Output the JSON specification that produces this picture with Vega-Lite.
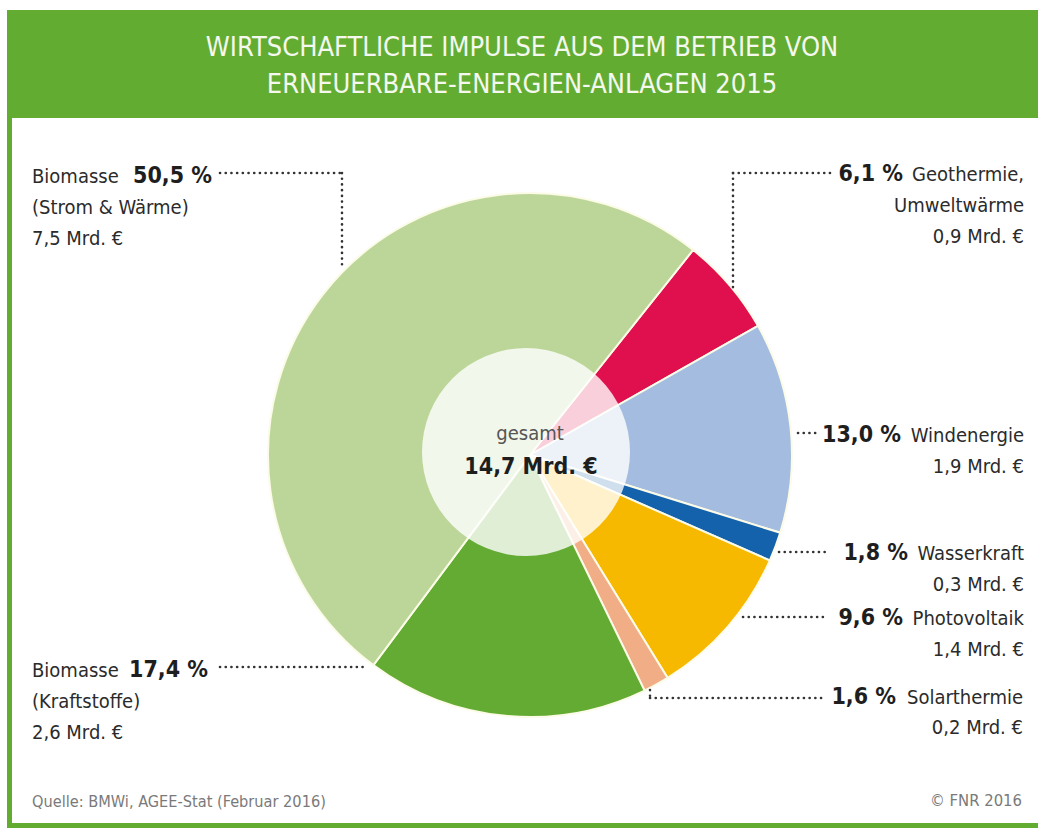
{
  "$schema": "https://vega.github.io/schema/vega-lite/v6.json",
  "width": 1038,
  "height": 828,
  "padding": 0,
  "autosize": {"type": "fit", "contains": "padding"},
  "background": "#ffffff",
  "config": {
    "view": {"stroke": null},
    "axis": {"disable": true},
    "text": {"font": "DejaVu Sans Condensed", "fontSize": 20, "color": "#2b2b2b"}
  },
  "datasets": {
    "pie": [
      {"key": "geo", "share": 6.1, "mrd": 0.9, "order": 1, "pct": "6,1 %", "lines": ["Geothermie,", "Umweltwärme", "0,9 Mrd. €"]},
      {"key": "wind", "share": 13.0, "mrd": 1.9, "order": 2, "pct": "13,0 %", "lines": ["Windenergie", "1,9 Mrd. €"]},
      {"key": "wasser", "share": 1.8, "mrd": 0.3, "order": 3, "pct": "1,8 %", "lines": ["Wasserkraft", "0,3 Mrd. €"]},
      {"key": "pv", "share": 9.6, "mrd": 1.4, "order": 4, "pct": "9,6 %", "lines": ["Photovoltaik", "1,4 Mrd. €"]},
      {"key": "solar", "share": 1.6, "mrd": 0.2, "order": 5, "pct": "1,6 %", "lines": ["Solarthermie", "0,2 Mrd. €"]},
      {"key": "kraft", "share": 17.4, "mrd": 2.6, "order": 6, "pct": "17,4 %", "lines": ["Biomasse", "(Kraftstoffe)", "2,6 Mrd. €"]},
      {"key": "strom", "share": 50.5, "mrd": 7.5, "order": 7, "pct": "50,5 %", "lines": ["Biomasse", "(Strom & Wärme)", "7,5 Mrd. €"]}
    ],
    "one": [{"n": 1}]
  },
  "data": {"name": "pie"},
  "layer": [
    {
      "data": {"name": "one"},
      "mark": {"type": "rect", "color": "#63ac32"},
      "encoding": {
        "x": {"datum": 7, "type": "quantitative", "scale": {"domain": [0, 1038], "nice": false, "zero": false}, "axis": null},
        "x2": {"datum": 1038},
        "y": {"datum": 10, "type": "quantitative", "scale": {"domain": [0, 828], "nice": false, "zero": false, "reverse": true}, "axis": null},
        "y2": {"datum": 118}
      }
    },
    {
      "data": {"name": "one"},
      "mark": {"type": "rect", "color": "#63ac32"},
      "encoding": {
        "x": {"datum": 7, "type": "quantitative"},
        "x2": {"datum": 12},
        "y": {"datum": 10, "type": "quantitative"},
        "y2": {"datum": 828}
      }
    },
    {
      "data": {"name": "one"},
      "mark": {"type": "rect", "color": "#63ac32"},
      "encoding": {
        "x": {"datum": 7, "type": "quantitative"},
        "x2": {"datum": 1038},
        "y": {"datum": 823, "type": "quantitative"},
        "y2": {"datum": 828}
      }
    },
    {
      "data": {"name": "one"},
      "mark": {"type": "text", "align": "center", "baseline": "middle", "font": "DejaVu Sans Condensed", "fontSize": 27, "color": "#f4f8ee", "lineHeight": 37},
      "encoding": {
        "x": {"datum": 522, "type": "quantitative"},
        "y": {"datum": 48, "type": "quantitative"},
        "text": {"value": ["WIRTSCHAFTLICHE IMPULSE AUS DEM BETRIEB VON", "ERNEUERBARE-ENERGIEN-ANLAGEN 2015"]}
      }
    },
    {
      "mark": {"type": "arc", "outerRadius": 262, "stroke": "#fbfbe8", "strokeWidth": 2},
      "encoding": {
        "x": {"datum": 530, "type": "quantitative"},
        "y": {"datum": 455, "type": "quantitative"},
        "theta": {"field": "share", "type": "quantitative", "stack": true, "scale": {"range": [0.672, 6.9552]}},
        "order": {"field": "order", "type": "quantitative"},
        "color": {
          "field": "key", "type": "nominal", "legend": null,
          "scale": {
            "domain": ["geo", "wind", "wasser", "pv", "solar", "kraft", "strom"],
            "range": ["#e0104e", "#a3bcdf", "#1562ac", "#f7b800", "#f1ad86", "#63ab33", "#bcd699"]
          }
        }
      }
    },
    {
      "data": {"name": "one"},
      "mark": {"type": "arc", "outerRadius": 104, "color": "#ffffff", "opacity": 0.8},
      "encoding": {
        "x": {"datum": 526, "type": "quantitative"},
        "y": {"datum": 452, "type": "quantitative"}
      }
    },
    {
      "data": {"name": "one"},
      "mark": {"type": "text", "align": "center", "baseline": "middle", "fontSize": 20, "color": "#555555"},
      "encoding": {
        "x": {"datum": 530, "type": "quantitative"},
        "y": {"datum": 434, "type": "quantitative"},
        "text": {"value": "gesamt"}
      }
    },
    {
      "data": {"name": "one"},
      "mark": {"type": "text", "align": "center", "baseline": "middle", "fontSize": 23, "fontWeight": "bold", "color": "#1e1e1e"},
      "encoding": {
        "x": {"datum": 531, "type": "quantitative"},
        "y": {"datum": 467, "type": "quantitative"},
        "text": {"value": "14,7 Mrd. €"}
      }
    },
    {
      "data": {"name": "one"},
      "mark": {"type": "rule", "color": "#333333", "strokeWidth": 2.6, "strokeCap": "round", "strokeDash": [0.1, 5.6]},
      "encoding": {"x": {"datum": 220, "type": "quantitative"}, "x2": {"datum": 342}, "y": {"datum": 173, "type": "quantitative"}, "y2": {"datum": 173}}
    },
    {
      "data": {"name": "one"},
      "mark": {"type": "rule", "color": "#333333", "strokeWidth": 2.6, "strokeCap": "round", "strokeDash": [0.1, 5.6]},
      "encoding": {"x": {"datum": 342, "type": "quantitative"}, "x2": {"datum": 342}, "y": {"datum": 173, "type": "quantitative"}, "y2": {"datum": 268}}
    },
    {
      "data": {"name": "one"},
      "mark": {"type": "rule", "color": "#333333", "strokeWidth": 2.6, "strokeCap": "round", "strokeDash": [0.1, 5.6]},
      "encoding": {"x": {"datum": 220, "type": "quantitative"}, "x2": {"datum": 366}, "y": {"datum": 667, "type": "quantitative"}, "y2": {"datum": 667}}
    },
    {
      "data": {"name": "one"},
      "mark": {"type": "rule", "color": "#333333", "strokeWidth": 2.6, "strokeCap": "round", "strokeDash": [0.1, 5.6]},
      "encoding": {"x": {"datum": 733, "type": "quantitative"}, "x2": {"datum": 830}, "y": {"datum": 173, "type": "quantitative"}, "y2": {"datum": 173}}
    },
    {
      "data": {"name": "one"},
      "mark": {"type": "rule", "color": "#333333", "strokeWidth": 2.6, "strokeCap": "round", "strokeDash": [0.1, 5.6]},
      "encoding": {"x": {"datum": 733, "type": "quantitative"}, "x2": {"datum": 733}, "y": {"datum": 173, "type": "quantitative"}, "y2": {"datum": 292}}
    },
    {
      "data": {"name": "one"},
      "mark": {"type": "rule", "color": "#333333", "strokeWidth": 2.6, "strokeCap": "round", "strokeDash": [0.1, 5.6]},
      "encoding": {"x": {"datum": 798, "type": "quantitative"}, "x2": {"datum": 816}, "y": {"datum": 433, "type": "quantitative"}, "y2": {"datum": 433}}
    },
    {
      "data": {"name": "one"},
      "mark": {"type": "rule", "color": "#333333", "strokeWidth": 2.6, "strokeCap": "round", "strokeDash": [0.1, 5.6]},
      "encoding": {"x": {"datum": 779, "type": "quantitative"}, "x2": {"datum": 828}, "y": {"datum": 552, "type": "quantitative"}, "y2": {"datum": 552}}
    },
    {
      "data": {"name": "one"},
      "mark": {"type": "rule", "color": "#333333", "strokeWidth": 2.6, "strokeCap": "round", "strokeDash": [0.1, 5.6]},
      "encoding": {"x": {"datum": 743, "type": "quantitative"}, "x2": {"datum": 823}, "y": {"datum": 617, "type": "quantitative"}, "y2": {"datum": 617}}
    },
    {
      "data": {"name": "one"},
      "mark": {"type": "rule", "color": "#333333", "strokeWidth": 2.6, "strokeCap": "round", "strokeDash": [0.1, 5.6]},
      "encoding": {"x": {"datum": 650, "type": "quantitative"}, "x2": {"datum": 826}, "y": {"datum": 698, "type": "quantitative"}, "y2": {"datum": 698}}
    },
    {
      "data": {"name": "one"},
      "mark": {"type": "rule", "color": "#333333", "strokeWidth": 2.6, "strokeCap": "round", "strokeDash": [0.1, 5.6]},
      "encoding": {"x": {"datum": 650, "type": "quantitative"}, "x2": {"datum": 650}, "y": {"datum": 690, "type": "quantitative"}, "y2": {"datum": 698}}
    },
    {
      "transform": [{"filter": "datum.key == 'strom'"}],
      "mark": {"type": "text", "align": "left", "baseline": "alphabetic", "lineHeight": 31},
      "encoding": {"x": {"datum": 32, "type": "quantitative"}, "y": {"datum": 183, "type": "quantitative"}, "text": {"field": "lines"}}
    },
    {
      "transform": [{"filter": "datum.key == 'strom'"}],
      "mark": {"type": "text", "align": "left", "baseline": "alphabetic", "fontSize": 23, "fontWeight": "bold", "color": "#1e1e1e"},
      "encoding": {"x": {"datum": 133, "type": "quantitative"}, "y": {"datum": 183, "type": "quantitative"}, "text": {"field": "pct"}}
    },
    {
      "transform": [{"filter": "datum.key == 'kraft'"}],
      "mark": {"type": "text", "align": "left", "baseline": "alphabetic", "lineHeight": 31},
      "encoding": {"x": {"datum": 32, "type": "quantitative"}, "y": {"datum": 677, "type": "quantitative"}, "text": {"field": "lines"}}
    },
    {
      "transform": [{"filter": "datum.key == 'kraft'"}],
      "mark": {"type": "text", "align": "left", "baseline": "alphabetic", "fontSize": 23, "fontWeight": "bold", "color": "#1e1e1e"},
      "encoding": {"x": {"datum": 129, "type": "quantitative"}, "y": {"datum": 677, "type": "quantitative"}, "text": {"field": "pct"}}
    },
    {
      "transform": [{"filter": "datum.key == 'geo'"}],
      "mark": {"type": "text", "align": "right", "baseline": "alphabetic", "lineHeight": 31},
      "encoding": {"x": {"datum": 1024, "type": "quantitative"}, "y": {"datum": 181, "type": "quantitative"}, "text": {"field": "lines"}}
    },
    {
      "transform": [{"filter": "datum.key == 'geo'"}],
      "mark": {"type": "text", "align": "right", "baseline": "alphabetic", "fontSize": 23, "fontWeight": "bold", "color": "#1e1e1e"},
      "encoding": {"x": {"datum": 903, "type": "quantitative"}, "y": {"datum": 181, "type": "quantitative"}, "text": {"field": "pct"}}
    },
    {
      "transform": [{"filter": "datum.key == 'wind'"}],
      "mark": {"type": "text", "align": "right", "baseline": "alphabetic", "lineHeight": 31},
      "encoding": {"x": {"datum": 1024, "type": "quantitative"}, "y": {"datum": 442, "type": "quantitative"}, "text": {"field": "lines"}}
    },
    {
      "transform": [{"filter": "datum.key == 'wind'"}],
      "mark": {"type": "text", "align": "right", "baseline": "alphabetic", "fontSize": 23, "fontWeight": "bold", "color": "#1e1e1e"},
      "encoding": {"x": {"datum": 901, "type": "quantitative"}, "y": {"datum": 442, "type": "quantitative"}, "text": {"field": "pct"}}
    },
    {
      "transform": [{"filter": "datum.key == 'wasser'"}],
      "mark": {"type": "text", "align": "right", "baseline": "alphabetic", "lineHeight": 31},
      "encoding": {"x": {"datum": 1024, "type": "quantitative"}, "y": {"datum": 560, "type": "quantitative"}, "text": {"field": "lines"}}
    },
    {
      "transform": [{"filter": "datum.key == 'wasser'"}],
      "mark": {"type": "text", "align": "right", "baseline": "alphabetic", "fontSize": 23, "fontWeight": "bold", "color": "#1e1e1e"},
      "encoding": {"x": {"datum": 908, "type": "quantitative"}, "y": {"datum": 560, "type": "quantitative"}, "text": {"field": "pct"}}
    },
    {
      "transform": [{"filter": "datum.key == 'pv'"}],
      "mark": {"type": "text", "align": "right", "baseline": "alphabetic", "lineHeight": 31},
      "encoding": {"x": {"datum": 1024, "type": "quantitative"}, "y": {"datum": 625, "type": "quantitative"}, "text": {"field": "lines"}}
    },
    {
      "transform": [{"filter": "datum.key == 'pv'"}],
      "mark": {"type": "text", "align": "right", "baseline": "alphabetic", "fontSize": 23, "fontWeight": "bold", "color": "#1e1e1e"},
      "encoding": {"x": {"datum": 903, "type": "quantitative"}, "y": {"datum": 625, "type": "quantitative"}, "text": {"field": "pct"}}
    },
    {
      "transform": [{"filter": "datum.key == 'solar'"}],
      "mark": {"type": "text", "align": "right", "baseline": "alphabetic", "lineHeight": 30},
      "encoding": {"x": {"datum": 1023, "type": "quantitative"}, "y": {"datum": 704, "type": "quantitative"}, "text": {"field": "lines"}}
    },
    {
      "transform": [{"filter": "datum.key == 'solar'"}],
      "mark": {"type": "text", "align": "right", "baseline": "alphabetic", "fontSize": 23, "fontWeight": "bold", "color": "#1e1e1e"},
      "encoding": {"x": {"datum": 896, "type": "quantitative"}, "y": {"datum": 704, "type": "quantitative"}, "text": {"field": "pct"}}
    },
    {
      "data": {"name": "one"},
      "mark": {"type": "text", "align": "left", "baseline": "middle", "fontSize": 16.2, "color": "#7a7a7a"},
      "encoding": {"x": {"datum": 32, "type": "quantitative"}, "y": {"datum": 802, "type": "quantitative"}, "text": {"value": "Quelle: BMWi, AGEE-Stat (Februar 2016)"}}
    },
    {
      "data": {"name": "one"},
      "mark": {"type": "text", "align": "right", "baseline": "middle", "fontSize": 16.5, "color": "#7a7a7a"},
      "encoding": {"x": {"datum": 1022, "type": "quantitative"}, "y": {"datum": 801, "type": "quantitative"}, "text": {"value": "© FNR 2016"}}
    }
  ]
}
